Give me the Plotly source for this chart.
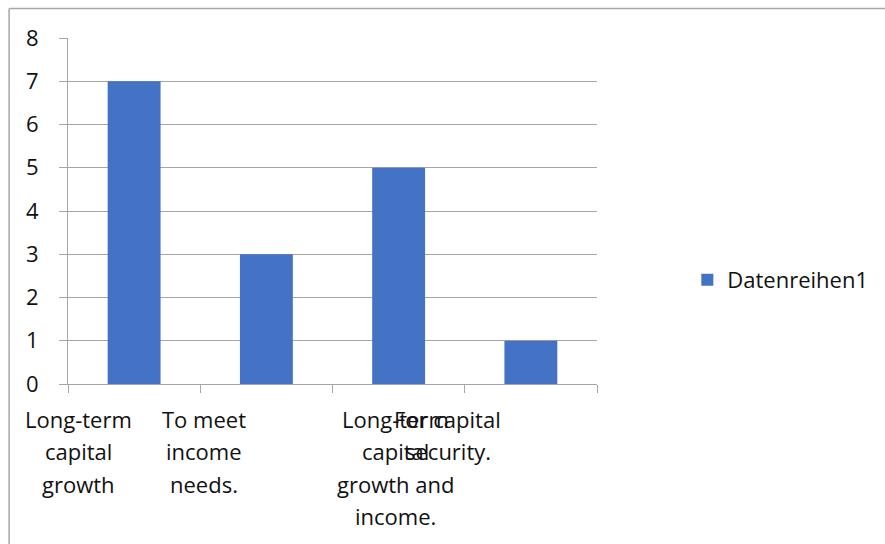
import plotly.graph_objects as go

# Chart data
categories = [
    "Long-term capital growth",
    "To meet income needs.",
    "Long-term capital growth and income.",
    "For capital security.",
]
values = [7, 3, 5, 1]
series_name = "Datenreihen1"
label_lines = [
    ["Long-term", "capital", "growth"],
    ["To meet", "income", "needs."],
    ["Long-term", "capital", "growth and", "income."],
    ["For capital", "security."],
]
y_ticks = [0, 1, 2, 3, 4, 5, 6, 7, 8]

# Layout constants (pixels)
W, H = 885, 544
L, R, T, B = 67.5, 597.5, 38, 384
PW, PH = R - L, B - T
FONT = "Open Sans"
TXT = "#111111"
GRID = "#a6a6a6"
BAR = "#4472C4"

# horizontal nudges of each category label block and line geometry
label_xshift = [-56, -62, -3, -83]
first_line_offset = 35
line_step = 32.3

fig = go.Figure()
fig.add_trace(go.Bar(
    x=categories, y=values, name=series_name,
    marker=dict(color=BAR, line=dict(width=0)),
    showlegend=True,
))

annotations = []
for cat, lines, dx in zip(categories, label_lines, label_xshift):
    for i, txt in enumerate(lines):
        annotations.append(dict(
            x=cat, xref="x", y=0, yref="paper",
            text=txt, showarrow=False,
            xanchor="center", yanchor="middle",
            xshift=dx, yshift=-(first_line_offset + line_step * i),
            font=dict(family=FONT, size=22, color=TXT),
        ))

def px_x(p):
    return (p - L) / PW

def px_y(p):
    return (B - p) / PH

shapes = [
    dict(type="line", xref="paper", yref="paper",
         x0=px_x(8.5), x1=px_x(890), y0=px_y(8.5), y1=px_y(8.5),
         line=dict(color=GRID, width=1.5)),
    dict(type="line", xref="paper", yref="paper",
         x0=px_x(8.5), x1=px_x(8.5), y0=px_y(8.5), y1=px_y(550),
         line=dict(color=GRID, width=1.5)),
]

fig.update_layout(
    width=W, height=H,
    margin=dict(l=L, r=W - R, t=T, b=H - B, pad=0),
    paper_bgcolor="white", plot_bgcolor="white",
    bargap=0.6,
    font=dict(family=FONT, size=22, color=TXT),
    xaxis=dict(
        type="category", showticklabels=False,
        range=[-0.5, len(categories) - 0.5], autorange=False,
        showline=True, linecolor=GRID, linewidth=1,
        ticks="outside", tickson="boundaries", ticklen=8,
        tickcolor=GRID, tickwidth=1,
        showgrid=False, zeroline=False, fixedrange=True,
    ),
    yaxis=dict(
        range=[0, 8], tickvals=y_ticks,
        ticktext=[str(v) for v in y_ticks],
        showline=True, linecolor=GRID, linewidth=1,
        ticks="outside", ticklen=8, tickcolor=GRID, tickwidth=1,
        showgrid=True, gridcolor=GRID, gridwidth=1,
        zeroline=False, ticklabelstandoff=16,
        tickfont=dict(family=FONT, size=22, color=TXT),
        fixedrange=True,
    ),
    legend=dict(
        x=px_x(688), y=px_y(280), xanchor="left", yanchor="middle",
        font=dict(family=FONT, size=22, color=TXT),
        bgcolor="rgba(0,0,0,0)", borderwidth=0,
    ),
    annotations=annotations,
    shapes=shapes,
)

fig.write_html("out.html", config={"displayModeBar": False})
